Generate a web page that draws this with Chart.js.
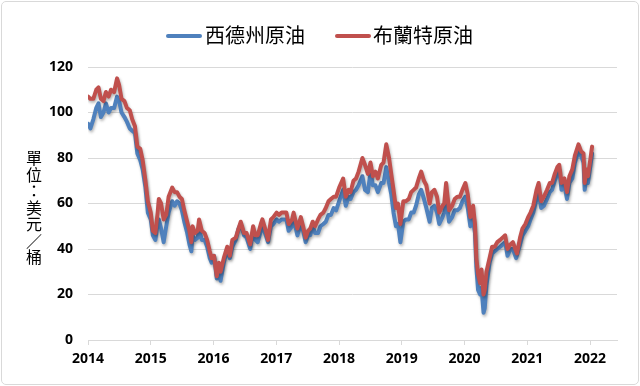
<!DOCTYPE html>
<html>
<head>
<meta charset="utf-8">
<script src="https://cdn.jsdelivr.net/npm/chart.js@4/dist/chart.umd.min.js"></script>
<style>
html,body{margin:0;padding:0;background:#fff;}
#wrap{position:relative;width:640px;height:386px;overflow:hidden;background:#fff;}
#c{position:absolute;left:0;top:0;}
#frame{position:absolute;left:1px;top:1px;width:636px;height:382px;border:1px solid #d9d9d9;border-radius:5px;pointer-events:none;box-sizing:content-box;}
.lg{position:absolute;font-family:"Noto Sans CJK TC","Noto Sans CJK SC",sans-serif;font-size:20px;line-height:24px;color:#000;white-space:nowrap;}
.sw{position:absolute;height:4px;width:36px;border-radius:2px;}
#ytitle{position:absolute;left:26px;top:149px;width:16px;font-family:"Noto Sans CJK TC",sans-serif;font-size:16px;line-height:16.5px;color:#000;line-break:anywhere;word-break:break-all;text-align:center;}
</style>
</head>
<body>
<div id="wrap">
  <canvas id="c" width="640" height="386"></canvas>
  <div class="sw" style="left:166px;top:34px;background:#4F81BD"></div>
  <div class="lg" id="lg1" style="left:205px;top:23px;">西德州原油</div>
  <div class="sw" style="left:335px;top:34px;background:#C0504D"></div>
  <div class="lg" id="lg2" style="left:373px;top:23px;">布蘭特原油</div>
  <div id="ytitle">單位：美元／桶</div>
  <div id="frame"></div>
</div>
<script>
// ---- data ----
const dates = [
"2014-01-02","2014-01-15","2014-02-01","2014-02-18","2014-03-03","2014-03-17","2014-04-01","2014-04-15","2014-05-01","2014-05-15","2014-06-02","2014-06-19","2014-07-01","2014-07-15","2014-08-01","2014-08-15","2014-09-01","2014-09-15","2014-10-01","2014-10-15","2014-11-01","2014-11-15","2014-12-01","2014-12-15",
"2015-01-01","2015-01-13","2015-01-28","2015-02-10","2015-02-17","2015-03-02","2015-03-17","2015-04-01","2015-04-15","2015-05-06","2015-05-20","2015-06-03","2015-06-17","2015-07-01","2015-07-15","2015-08-01","2015-08-14","2015-08-25","2015-09-01","2015-09-15","2015-10-01","2015-10-09","2015-10-25","2015-11-10","2015-11-25","2015-12-10","2015-12-21",
"2016-01-04","2016-01-20","2016-02-01","2016-02-11","2016-03-01","2016-03-21","2016-04-05","2016-04-20","2016-05-10","2016-05-26","2016-06-08","2016-06-27","2016-07-12","2016-08-02","2016-08-19","2016-09-01","2016-09-15","2016-10-03","2016-10-12","2016-11-01","2016-11-14","2016-12-01","2016-12-15",
"2017-01-03","2017-01-16","2017-02-01","2017-02-15","2017-03-01","2017-03-14","2017-04-03","2017-04-12","2017-05-04","2017-05-24","2017-06-06","2017-06-21","2017-07-05","2017-07-18","2017-08-01","2017-08-15","2017-09-01","2017-09-15","2017-10-02","2017-10-16","2017-11-01","2017-11-15","2017-12-01","2017-12-15",
"2018-01-02","2018-01-25","2018-02-09","2018-02-26","2018-03-09","2018-03-26","2018-04-10","2018-04-25","2018-05-17","2018-06-01","2018-06-18","2018-07-03","2018-07-17","2018-08-01","2018-08-15","2018-09-04","2018-09-17","2018-10-03","2018-10-19","2018-11-01","2018-11-14","2018-11-28","2018-12-10","2018-12-24",
"2019-01-10","2019-01-25","2019-02-11","2019-02-25","2019-03-11","2019-03-25","2019-04-10","2019-04-24","2019-05-10","2019-05-24","2019-06-12","2019-06-25","2019-07-10","2019-07-25","2019-08-07","2019-08-26","2019-09-05","2019-09-16","2019-10-03","2019-10-21","2019-11-05","2019-11-20","2019-12-05","2019-12-20",
"2020-01-06","2020-01-20","2020-02-04","2020-02-20","2020-03-02","2020-03-10","2020-03-20","2020-04-01","2020-04-09","2020-04-21","2020-04-28","2020-05-08","2020-05-26","2020-06-10","2020-06-25","2020-07-10","2020-07-27","2020-08-10","2020-08-25","2020-09-08","2020-09-25","2020-10-09","2020-10-28","2020-11-02","2020-11-20","2020-12-04","2020-12-21",
"2021-01-06","2021-01-20","2021-02-05","2021-02-24","2021-03-08","2021-03-23","2021-04-08","2021-04-26","2021-05-12","2021-05-25","2021-06-10","2021-06-25","2021-07-06","2021-07-19","2021-08-05","2021-08-20","2021-09-03","2021-09-20","2021-10-05","2021-10-26","2021-11-10","2021-11-24","2021-12-01","2021-12-10","2021-12-20",
"2022-01-04","2022-01-13"
];
const wti = [
95,93,97,102,104,98,100,104,100,102,102,107,105,100,98,96,93,92,91,82,79,75,67,56,
53,46,44,51,53,49,43,50,56,61,59,61,60,57,52,47,42,39,46,44,45,49,44,44,41,36,34,
37,27,32,26,34,40,36,41,44,49,51,46,45,40,48,44,43,48,50,46,43,50,51,
53,52,53,53,53,48,50,53,46,51,48,43,46,46,50,47,47,50,51,52,55,55,58,57,
61,66,59,63,62,65,66,68,72,66,65,74,68,68,65,69,69,76,69,64,56,50,51,43,
52,53,53,56,56,59,64,66,62,58,52,58,59,56,51,54,56,62,52,54,57,57,58,61,
63,58,50,53,47,32,22,20,23,12,14,24,34,38,39,40,41,42,43,37,40,40,36,36,42,46,48,
50,53,56,62,65,58,59,62,65,66,70,73,75,66,68,62,69,71,78,83,81,78,66,71,69,
77,82
];
const brent = [
107,106,106,110,111,106,105,109,107,110,109,115,112,106,105,102,101,97,94,85,84,79,70,61,
56,48,47,56,62,60,53,55,63,67,65,65,63,62,57,52,48,43,50,47,48,53,48,47,44,39,36,
37,28,34,30,36,41,37,44,45,49,52,47,47,42,50,46,46,51,53,48,44,53,54,
56,55,56,56,56,51,53,56,49,54,50,45,48,49,52,50,53,55,56,58,61,62,63,63,
67,71,63,66,65,70,71,74,80,77,73,78,72,74,71,77,78,86,80,73,66,58,60,51,
61,61,62,65,66,67,71,74,70,68,60,65,66,63,56,59,60,69,57,59,62,63,63,66,
69,64,54,59,51,36,29,25,31,20,22,30,36,41,41,43,44,45,46,40,42,43,39,38,45,49,51,
54,56,59,66,69,61,63,66,69,69,73,76,77,69,71,65,72,75,81,86,83,82,69,75,72,
80,85
];
const xTickYears = [2014,2015,2016,2017,2018,2019,2020,2021,2022];
const seriesNames = ["西德州原油","布蘭特原油"];

function toYear(s){
  const [y,m,d] = s.split("-").map(Number);
  const t0 = Date.UTC(y,0,1), t1 = Date.UTC(y+1,0,1);
  return y + (Date.UTC(y,m-1,d) - t0)/(t1 - t0);
}

const shadowPlugin = {
  id:'lineShadow',
  beforeDatasetDraw(chart){const c=chart.ctx;c.save();c.shadowColor='rgba(0,0,0,0.30)';c.shadowBlur=3;c.shadowOffsetX=1;c.shadowOffsetY=2;},
  afterDatasetDraw(chart){chart.ctx.restore();}
};

const tickFont = {family:"'Open Sans', 'DejaVu Sans', sans-serif", weight:'bold', size:14};

new Chart(document.getElementById('c'), {
  type:'line',
  data:{
    datasets:[
      {label:seriesNames[0], data:dates.map((d,i)=>({x:toYear(d),y:wti[i]})), borderColor:'#4F81BD', backgroundColor:'#4F81BD', borderWidth:4, pointRadius:0, tension:0, borderJoinStyle:'round', borderCapStyle:'round', order:1},
      {label:seriesNames[1], data:dates.map((d,i)=>({x:toYear(d),y:brent[i]})), borderColor:'#C0504D', backgroundColor:'#C0504D', borderWidth:4, pointRadius:0, tension:0, borderJoinStyle:'round', borderCapStyle:'round', order:0}
    ]
  },
  plugins:[shadowPlugin],
  options:{
    responsive:false,
    animation:false,
    devicePixelRatio:1,
    layout:{padding:{left:0,right:23,top:67,bottom:0}},
    plugins:{legend:{display:false}, tooltip:{enabled:false}},
    scales:{
      x:{
        type:'linear', min:2014, max:2022.43,
        afterBuildTicks:(s)=>{s.ticks = xTickYears.map(v=>({value:v}));},
        ticks:{callback:(v)=>String(v), font:tickFont, color:'#000', padding:6, maxRotation:0, autoSkip:false},
        grid:{drawOnChartArea:false, drawTicks:true, tickLength:5, color:'#d9d9d9'},
        border:{color:'#d9d9d9'},
        afterFit:(s)=>{s.height=46;}
      },
      y:{
        min:0, max:120,
        ticks:{stepSize:20, font:tickFont, color:'#000', padding:15},
        grid:{color:'#d9d9d9', drawTicks:false},
        border:{display:false},
        afterFit:(s)=>{s.width=88;}
      }
    }
  }
});
</script>
</body>
</html>
